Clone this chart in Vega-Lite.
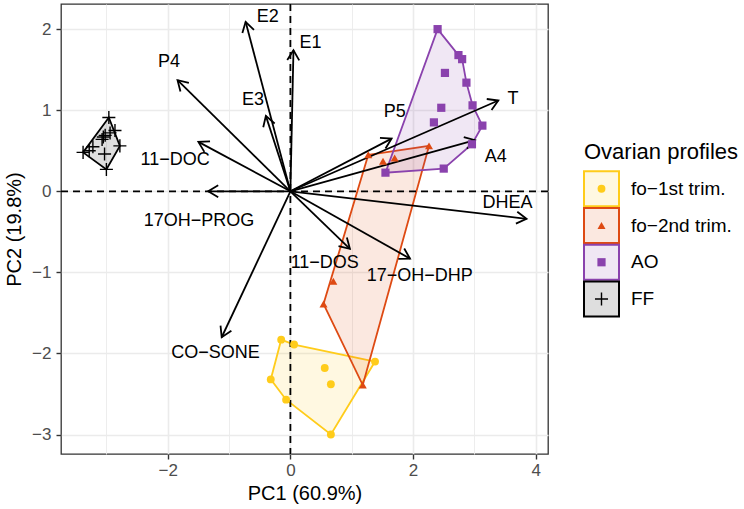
{
  "$schema": "https://vega.github.io/schema/vega-lite/v6.json",
  "background": "white",
  "padding": {"left": 3, "top": 2, "right": 0, "bottom": 0},
  "config": {"font": "Liberation Sans", "view": {"stroke": null}, "concat": {"spacing": 30}},
  "datasets": {
    "pts": [
      {"g": "fo−1st trim.", "x": -0.15, "y": -1.83, "h": 1},
      {"g": "fo−1st trim.", "x": 0.06, "y": -1.89, "h": 2},
      {"g": "fo−1st trim.", "x": 1.38, "y": -2.10, "h": 3},
      {"g": "fo−1st trim.", "x": 0.66, "y": -3.0, "h": 4},
      {"g": "fo−1st trim.", "x": -0.07, "y": -2.57, "h": 5},
      {"g": "fo−1st trim.", "x": -0.32, "y": -2.32, "h": 6},
      {"g": "fo−1st trim.", "x": 0.56, "y": -2.18, "h": null},
      {"g": "fo−1st trim.", "x": 0.66, "y": -2.38, "h": null},
      {"g": "fo−2nd trim.", "x": 1.27, "y": 0.45, "h": 1},
      {"g": "fo−2nd trim.", "x": 2.26, "y": 0.56, "h": 2},
      {"g": "fo−2nd trim.", "x": 1.18, "y": -2.39, "h": 3},
      {"g": "fo−2nd trim.", "x": 0.54, "y": -1.39, "h": 4},
      {"g": "fo−2nd trim.", "x": 0.70, "y": -1.11, "h": null},
      {"g": "fo−2nd trim.", "x": 1.51, "y": 0.37, "h": null},
      {"g": "fo−2nd trim.", "x": 1.70, "y": 0.41, "h": null},
      {"g": "AO", "x": 2.40, "y": 2.0, "h": 1},
      {"g": "AO", "x": 2.74, "y": 1.68, "h": 2},
      {"g": "AO", "x": 2.80, "y": 1.63, "h": 3},
      {"g": "AO", "x": 2.87, "y": 1.34, "h": 4},
      {"g": "AO", "x": 2.97, "y": 1.06, "h": 5},
      {"g": "AO", "x": 3.13, "y": 0.81, "h": 6},
      {"g": "AO", "x": 2.96, "y": 0.58, "h": 7},
      {"g": "AO", "x": 2.50, "y": 0.28, "h": 8},
      {"g": "AO", "x": 1.55, "y": 0.23, "h": 9},
      {"g": "AO", "x": 2.52, "y": 1.46, "h": null},
      {"g": "AO", "x": 2.46, "y": 1.03, "h": null},
      {"g": "AO", "x": 2.34, "y": 0.85, "h": null},
      {"g": "FF", "x": -2.96, "y": 0.91, "h": 1},
      {"g": "FF", "x": -2.78, "y": 0.56, "h": 2},
      {"g": "FF", "x": -3.0, "y": 0.27, "h": 3},
      {"g": "FF", "x": -3.38, "y": 0.48, "h": 4},
      {"g": "FF", "x": -2.86, "y": 0.75, "h": null},
      {"g": "FF", "x": -2.94, "y": 0.72, "h": null},
      {"g": "FF", "x": -3.02, "y": 0.69, "h": null},
      {"g": "FF", "x": -3.07, "y": 0.64, "h": null},
      {"g": "FF", "x": -3.05, "y": 0.67, "h": null},
      {"g": "FF", "x": -3.22, "y": 0.55, "h": null},
      {"g": "FF", "x": -3.28, "y": 0.50, "h": null},
      {"g": "FF", "x": -3.03, "y": 0.46, "h": null}
    ],
    "arrows": [
      {"v": "E2", "x": -0.73, "y": 2.09, "lx": -0.37, "ly": 2.15},
      {"v": "E1", "x": 0.05, "y": 1.74, "lx": 0.33, "ly": 1.83},
      {"v": "P4", "x": -1.84, "y": 1.37, "lx": -1.98, "ly": 1.59},
      {"v": "E3", "x": -0.40, "y": 0.93, "lx": -0.61, "ly": 1.13},
      {"v": "11−DOC", "x": -1.50, "y": 0.61, "lx": -1.88, "ly": 0.38},
      {"v": "17OH−PROG", "x": -1.34, "y": 0.0, "lx": -1.49, "ly": -0.37},
      {"v": "CO−SONE", "x": -1.12, "y": -1.80, "lx": -1.22, "ly": -2.0},
      {"v": "11−DOS", "x": 0.97, "y": -0.71, "lx": 0.56, "ly": -0.88},
      {"v": "17−OH−DHP", "x": 1.95, "y": -0.83, "lx": 2.11, "ly": -1.04},
      {"v": "DHEA", "x": 3.85, "y": -0.34, "lx": 3.54, "ly": -0.14},
      {"v": "A4", "x": 3.01, "y": 0.63, "lx": 3.35, "ly": 0.42},
      {"v": "T", "x": 3.39, "y": 1.12, "lx": 3.63, "ly": 1.14},
      {"v": "P5", "x": 1.65, "y": 0.65, "lx": 1.70, "ly": 0.98}
    ],
    "leg": [
      {"k": "title", "t": "Ovarian profiles"},
      {"k": "key", "t": "fo−1st trim."},
      {"k": "key", "t": "fo−2nd trim."},
      {"k": "key", "t": "AO"},
      {"k": "key", "t": "FF"}
    ]
  },
  "hconcat": [
    {
      "width": 487,
      "height": 450,
      "view": {"stroke": "#333333", "strokeWidth": 1.3},
      "layer": [
        {
          "data": {"name": "pts"},
          "transform": [{"filter": "isValid(datum.h)"}],
          "mark": {"type": "line", "interpolate": "linear-closed", "strokeWidth": 1.8, "fillOpacity": 0.13},
          "encoding": {
            "x": {"field": "x", "type": "quantitative", "scale": {"domain": [-3.74, 4.2], "nice": false, "zero": false},
              "axis": {"title": "PC1 (60.9%)", "values": [-3, -2, -1, 0, 1, 2, 3, 4], "format": "d",
                "labelExpr": "datum.value % 2 === 0 ? datum.label : ''",
                "tickOpacity": {"condition": {"test": "datum.value % 2 !== 0", "value": 0}, "value": 1},
                "gridWidth": {"condition": {"test": "datum.value % 2 !== 0", "value": 0.9}, "value": 1.6},
                "grid": true, "gridColor": "#EBEBEB", "domain": false, "tickColor": "#333333", "tickSize": 5, "tickWidth": 1.4,
                "labelFontSize": 17, "labelColor": "#4D4D4D", "labelPadding": 3, "labelFont": "Liberation Sans",
                "titleFontSize": 20, "titleFontWeight": "normal", "titleColor": "#000000", "titlePadding": 5, "titleFont": "Liberation Sans"}},
            "y": {"field": "y", "type": "quantitative", "scale": {"domain": [-3.24, 2.31], "nice": false, "zero": false},
              "axis": {"title": "PC2 (19.8%)", "values": [-3, -2.5, -2, -1.5, -1, -0.5, 0, 0.5, 1, 1.5, 2], "format": "d",
                "labelExpr": "datum.value % 1 === 0 ? datum.label : ''",
                "tickOpacity": {"condition": {"test": "datum.value % 1 !== 0", "value": 0}, "value": 1},
                "gridWidth": {"condition": {"test": "datum.value % 1 !== 0", "value": 0.9}, "value": 1.6},
                "grid": true, "gridColor": "#EBEBEB", "domain": false, "tickColor": "#333333", "tickSize": 5, "tickWidth": 1.4,
                "labelFontSize": 17, "labelColor": "#4D4D4D", "labelPadding": 5, "labelFont": "Liberation Sans",
                "titleFontSize": 20, "titleFontWeight": "normal", "titleColor": "#000000", "titlePadding": 7, "titleFont": "Liberation Sans"}},
            "order": {"field": "h", "type": "quantitative"},
            "stroke": {"field": "g", "type": "nominal", "scale": {"domain": ["fo−1st trim.", "fo−2nd trim.", "AO", "FF"], "range": ["#FFCC1A", "#DE4A13", "#8A42AD", "#000000"]}, "legend": null},
            "fill": {"field": "g", "type": "nominal", "scale": {"domain": ["fo−1st trim.", "fo−2nd trim.", "AO", "FF"], "range": ["#FFCC1A", "#DE4A13", "#8A42AD", "#000000"]}, "legend": null},
            "detail": {"field": "g"}
          }
        },
        {
          "data": {"values": [{}]},
          "mark": {"type": "rule", "strokeDash": [7, 5], "strokeWidth": 1.8, "color": "#000000"},
          "encoding": {"x": {"datum": 0, "type": "quantitative"}}
        },
        {
          "data": {"values": [{}]},
          "mark": {"type": "rule", "strokeDash": [7, 5], "strokeWidth": 1.8, "color": "#000000"},
          "encoding": {"y": {"datum": 0, "type": "quantitative"}}
        },
        {
          "data": {"name": "arrows"},
          "mark": {"type": "rule", "strokeWidth": 1.8, "color": "#000000"},
          "encoding": {
            "x": {"field": "x", "type": "quantitative"},
            "y": {"field": "y", "type": "quantitative"},
            "x2": {"datum": 0},
            "y2": {"datum": 0}
          }
        },
        {
          "data": {"name": "arrows"},
          "transform": [{"calculate": "atan2(-datum.y * 81, datum.x * 61.3) * 180 / PI", "as": "ang"}],
          "mark": {"type": "point", "shape": "M-1,-0.6L0,0L-1,0.6", "filled": false, "size": 400, "strokeWidth": 1.8, "color": "#000000", "opacity": 1},
          "encoding": {
            "x": {"field": "x", "type": "quantitative"},
            "y": {"field": "y", "type": "quantitative"},
            "angle": {"field": "ang", "type": "quantitative", "scale": null}
          }
        },
        {
          "data": {"name": "pts"},
          "transform": [{"filter": "datum.g !== 'FF'"}],
          "mark": {"type": "point", "filled": true, "opacity": 1, "strokeWidth": 0},
          "encoding": {
            "x": {"field": "x", "type": "quantitative"},
            "y": {"field": "y", "type": "quantitative"},
            "color": {"field": "g", "type": "nominal", "scale": {"domain": ["fo−1st trim.", "fo−2nd trim.", "AO", "FF"], "range": ["#FFCC1A", "#DE4A13", "#8A42AD", "#000000"]}, "legend": null},
            "shape": {"field": "g", "type": "nominal", "scale": {"domain": ["fo−1st trim.", "fo−2nd trim.", "AO", "FF"], "range": ["circle", "triangle-up", "square", "cross"]}, "legend": null},
            "size": {"field": "g", "type": "nominal", "scale": {"domain": ["fo−1st trim.", "fo−2nd trim.", "AO", "FF"], "range": [62, 70, 52, 150]}, "legend": null}
          }
        },
        {
          "data": {"name": "pts"},
          "transform": [{"filter": "datum.g === 'FF'"}],
          "mark": {"type": "point", "shape": "M-1,0L1,0M0,-1L0,1", "filled": false, "size": 170, "strokeWidth": 1.4, "color": "#000000", "opacity": 1},
          "encoding": {
            "x": {"field": "x", "type": "quantitative"},
            "y": {"field": "y", "type": "quantitative"}
          }
        },
        {
          "data": {"name": "arrows"},
          "mark": {"type": "text", "fontSize": 18, "color": "#000000", "align": "center", "baseline": "middle"},
          "encoding": {
            "x": {"field": "lx", "type": "quantitative"},
            "y": {"field": "ly", "type": "quantitative"},
            "text": {"field": "v"}
          }
        }
      ]
    },
    {
      "width": 35,
      "height": 450,
      "data": {"name": "leg"},
      "encoding": {
        "x": {"datum": 0, "type": "quantitative", "scale": {"domain": [-1, 1]}, "axis": null},
        "y": {"field": "t", "type": "nominal", "scale": {"type": "point", "domain": ["Ovarian profiles", "fo−1st trim.", "fo−2nd trim.", "AO", "FF"], "range": [148, 295], "padding": 0}, "axis": null}
      },
      "layer": [
        {
          "transform": [{"filter": "datum.k === 'key'"}],
          "mark": {"type": "point", "shape": "square", "filled": true, "size": 1225, "strokeWidth": 2, "fillOpacity": 0.13, "strokeOpacity": 1, "opacity": 1},
          "encoding": {
            "fill": {"field": "t", "type": "nominal", "scale": {"domain": ["fo−1st trim.", "fo−2nd trim.", "AO", "FF"], "range": ["#FFCC1A", "#DE4A13", "#8A42AD", "#000000"]}, "legend": null},
            "stroke": {"field": "t", "type": "nominal", "scale": {"domain": ["fo−1st trim.", "fo−2nd trim.", "AO", "FF"], "range": ["#FFCC1A", "#DE4A13", "#8A42AD", "#000000"]}, "legend": null}
          }
        },
        {
          "transform": [{"filter": "datum.k === 'key' && datum.t !== 'FF'"}],
          "mark": {"type": "point", "filled": true, "opacity": 1, "strokeWidth": 0},
          "encoding": {
            "color": {"field": "t", "type": "nominal", "scale": {"domain": ["fo−1st trim.", "fo−2nd trim.", "AO", "FF"], "range": ["#FFCC1A", "#DE4A13", "#8A42AD", "#000000"]}, "legend": null},
            "shape": {"field": "t", "type": "nominal", "scale": {"domain": ["fo−1st trim.", "fo−2nd trim.", "AO", "FF"], "range": ["circle", "triangle-up", "square", "cross"]}, "legend": null},
            "size": {"field": "t", "type": "nominal", "scale": {"domain": ["fo−1st trim.", "fo−2nd trim.", "AO", "FF"], "range": [62, 70, 52, 150]}, "legend": null}
          }
        },
        {
          "transform": [{"filter": "datum.t === 'FF'"}],
          "mark": {"type": "point", "shape": "M-1,0L1,0M0,-1L0,1", "filled": false, "size": 170, "strokeWidth": 1.4, "color": "#000000", "opacity": 1}
        },
        {
          "transform": [{"filter": "datum.k === 'key'"}],
          "mark": {"type": "text", "fontSize": 19, "align": "left", "baseline": "middle", "dx": 29.5, "color": "#000000"},
          "encoding": {"text": {"field": "t"}}
        },
        {
          "transform": [{"filter": "datum.k === 'title'"}],
          "mark": {"type": "text", "fontSize": 22, "align": "left", "baseline": "middle", "dx": -17.5, "color": "#000000"},
          "encoding": {"text": {"field": "t"}}
        }
      ]
    }
  ]
}
